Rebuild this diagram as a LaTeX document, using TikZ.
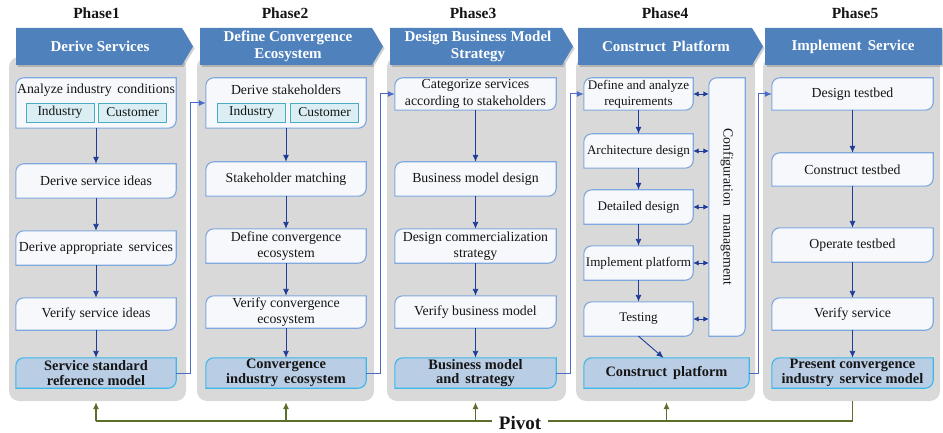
\documentclass[tikz,border=0pt]{standalone}
\usepackage{fontspec}
\setmainfont{Liberation Serif}
\usetikzlibrary{arrows.meta,calc}
\pgfdeclarelayer{bgA}\pgfdeclarelayer{bgB}\pgfsetlayers{bgA,bgB,main}
\definecolor{hblue}{HTML}{4F81BD}
\definecolor{pgray}{HTML}{D9D9D9}
\definecolor{bfill}{HTML}{F6F8FB}
\definecolor{bline}{HTML}{7FA8DE}
\definecolor{rfill}{HTML}{B9CDE5}
\definecolor{rline}{HTML}{3DB8EC}
\definecolor{sfill}{HTML}{DAEEF3}
\definecolor{sline}{HTML}{4BACC6}
\definecolor{arr}{HTML}{1F3C99}
\definecolor{conn}{HTML}{4A6BC8}
\definecolor{piv}{HTML}{5B6E2B}
\definecolor{txt}{HTML}{151515}
\newcommand\dframe[3]{\filldraw[draw=#1,fill=#2,line width=1.1pt] (#3.south west) -- ([yshift=-8pt]#3.north west) arc[start angle=180,end angle=90,radius=8pt] -- (#3.north east) -- ([yshift=8pt]#3.south east) arc[start angle=0,end angle=-90,radius=8pt] -- cycle;}
\newcommand\hdrshape[3]{% x1, x2, tip
  \fill[black,opacity=.18] (#1+1.5,30) -- (#2+1.5,30) -- (#3+1.5,48.5) -- (#2+1.5,67) -- (#1+1.5,67) -- cycle;
  \fill[hblue] (#1,28) -- (#2,28) -- (#3,46.5) -- (#2,65) -- (#1,65) -- cycle;}
\tikzset{
  panel/.style={fill=pgray,rounded corners=10pt,minimum width=#1,minimum height=344pt,inner sep=0pt},
  box/.style={minimum height=34pt,align=center,inner sep=1pt,text=txt,font=\fontsize{13.8}{16.5}\selectfont},
  sbox/.style={box,font=\fontsize{13.1}{16}\selectfont},
  res/.style={box,minimum height=30pt,font=\bfseries\fontsize{14.4}{14.5}\selectfont},
  sub/.style={draw=sline,fill=sfill,line width=0.9pt,minimum width=68pt,minimum height=19pt,inner sep=0pt,text=txt,font=\fontsize{13.5}{15}\selectfont},
  hdr/.style={text=white,align=center,font=\bfseries\fontsize{15}{17.5}\selectfont,inner sep=0pt},
  phase/.style={text=txt,font=\bfseries\fontsize{15.5}{16}\selectfont,inner sep=0pt},
  flow/.style={draw=arr,line width=0.9pt,-{Latex[length=7pt,width=6pt]}},
  dflow/.style={draw=arr,line width=0.9pt,{Latex[length=5.5pt,width=5.5pt]}-{Latex[length=5.5pt,width=5.5pt]}},
  link/.style={draw=conn,line width=1pt,-{Latex[length=7pt,width=6pt]}},
  pline/.style={draw=piv,line width=1.1pt},
  parr/.style={pline,-{Latex[length=7pt,width=6pt]}}
}
\begin{document}
\begin{tikzpicture}[x=1pt,y=-1pt]
\useasboundingbox (0,0) rectangle (943,433);
% phase labels
\node[phase] (ph1) at (96.5,13) {Phase1};
\node[phase] (ph2) at (285,13) {Phase2};
\node[phase] (ph3) at (473,13) {Phase3};
\node[phase] (ph4) at (665,13) {Phase4};
\node[phase] (ph5) at (855,13) {Phase5};
% panels and headers
\begin{pgfonlayer}{bgA}
\node[panel=177pt] (pan1) at (97.5,229) {};
\node[panel=177pt] (pan2) at (285.5,229) {};
\node[panel=179pt] (pan3) at (476.5,229) {};
\node[panel=179pt] (pan4) at (665.5,229) {};
\node[panel=177pt] (pan5) at (851.5,229) {};
\hdrshape{16}{182}{193}
\hdrshape{200}{372}{383}
\hdrshape{390}{562}{573}
\hdrshape{578}{752}{763}
\hdrshape{765}{942}{942}
\end{pgfonlayer}
\node[hdr] (h1) at (100,46.5) {Derive Services};
\node[hdr] (h2) at (288,46.5) {Define Convergence\\Ecosystem};
\node[hdr] (h3) at (478,46.5) {Design Business Model\\Strategy};
\node[hdr] (h4) at (666,46.5) {Construct\, Platform};
\node[hdr] (h5) at (853,46.5) {Implement\, Service};
% Phase 1
\node[box,minimum width=160pt,minimum height=50pt] (p1a) at (96,103) {};
\node[box] (p1at) at (96,90) {Analyze industry\, conditions};
\node[sub] (p1s1) at (60,112.5) {Industry};
\node[sub] (p1s2) at (132.5,112.5) {Customer};
\node[box,minimum width=160pt] (p1b) at (96,181) {Derive service ideas};
\node[box,minimum width=160pt] (p1c) at (96,248) {Derive appropriate\, services};
\node[box,minimum width=160pt,minimum height=32pt] (p1d) at (96,314) {Verify service ideas};
\node[res,minimum width=160pt] (p1e) at (96,373) {Service standard\\reference model};
% Phase 2
\node[box,minimum width=160pt,minimum height=50pt] (p2a) at (286,103) {};
\node[box] (p2at) at (286,90) {Derive stakeholders};
\node[sub] (p2s1) at (251.5,112.5) {Industry};
\node[sub] (p2s2) at (324.5,112.5) {Customer};
\node[box,minimum width=160pt] (p2b) at (286,179) {Stakeholder matching};
\node[box,minimum width=160pt] (p2c) at (286,246) {Define convergence\\ecosystem};
\node[box,minimum width=160pt,minimum height=32pt] (p2d) at (286,312) {Verify convergence\\ecosystem};
\node[res,minimum width=160pt] (p2e) at (286,373) {Convergence\\industry\, ecosystem};
% Phase 3
\node[box,minimum width=161pt,minimum height=32pt] (p3a) at (475.5,94) {Categorize services\\according to stakeholders};
\node[box,minimum width=161pt] (p3b) at (475.5,179) {Business model design};
\node[box,minimum width=161pt] (p3c) at (475.5,246) {Design commercialization\\strategy};
\node[box,minimum width=161pt,minimum height=32pt] (p3d) at (475.5,312) {Verify business model};
\node[res,minimum width=161pt] (p3e) at (475.5,373) {Business model\\and\, strategy};
% Phase 4
\node[sbox,minimum width=109pt,minimum height=32pt] (p4a) at (638.5,94) {Define and analyze\\requirements};
\node[sbox,minimum width=109pt] (p4b) at (638.5,151) {Architecture design};
\node[sbox,minimum width=109pt] (p4c) at (638.5,207) {Detailed design};
\node[sbox,minimum width=109pt] (p4d) at (638.5,263) {Implement platform};
\node[sbox,minimum width=109pt] (p4e) at (638.5,319) {Testing};
\node[box,minimum width=36pt,minimum height=258pt] (cfg) at (727,207) {};
\node[box,rotate=-90,font=\fontsize{13.8}{16}\selectfont] (cfgt) at (cfg.center) {Configuration\hspace{9pt}management};
\node[res,minimum width=165pt] (p4f) at (666.5,373) {Construct\, platform};
% Phase 5
\node[box,minimum width=161pt,minimum height=32pt] (p5a) at (852.5,94) {Design testbed};
\node[box,minimum width=161pt,minimum height=33pt] (p5b) at (852.5,169.5) {Construct testbed};
\node[box,minimum width=161pt] (p5c) at (852.5,245) {Operate testbed};
\node[box,minimum width=161pt,minimum height=32pt] (p5d) at (852.5,314) {Verify service};
\node[res,minimum width=161pt] (p5e) at (852.5,373) {Present convergence\\industry\, service model};
% frames
\begin{pgfonlayer}{bgB}
\foreach \n in {p1a,p1b,p1c,p1d,p2a,p2b,p2c,p2d,p3a,p3b,p3c,p3d,p4a,p4b,p4c,p4d,p4e,cfg,p5a,p5b,p5c,p5d}{\dframe{bline}{bfill}{\n}}
\foreach \n in {p1e,p2e,p3e,p4f,p5e}{\dframe{rline}{rfill}{\n}}
\end{pgfonlayer}
% vertical flows
\draw[flow] (p1a) -- (p1b); \draw[flow] (p1b) -- (p1c); \draw[flow] (p1c) -- (p1d); \draw[flow] (p1d) -- (p1e);
\draw[flow] (p2a) -- (p2b); \draw[flow] (p2b) -- (p2c); \draw[flow] (p2c) -- (p2d); \draw[flow] (p2d) -- (p2e);
\draw[flow] (p3a) -- (p3b); \draw[flow] (p3b) -- (p3c); \draw[flow] (p3c) -- (p3d); \draw[flow] (p3d) -- (p3e);
\draw[flow] (p4a) -- (p4b); \draw[flow] (p4b) -- (p4c); \draw[flow] (p4c) -- (p4d); \draw[flow] (p4d) -- (p4e);
\draw[flow] (p4e.south) -- ([xshift=-3pt]p4f.north);
\draw[flow] (p5a) -- (p5b); \draw[flow] (p5b) -- (p5c); \draw[flow] (p5c) -- (p5d); \draw[flow] (p5d) -- (p5e);
\foreach \n in {p4a,p4b,p4c,p4d,p4e}{\draw[dflow] (\n.east) -- (\n.east -| cfg.west);}
% inter-phase links
\draw[link] (p1e.east) -- ++(14,0) |- (p2a.west);
\draw[link] (p2e.east) -- ++(14,0) |- (p3a.west);
\draw[link] (p3e.east) -- ++(14,0) |- (p4a.west);
\draw[link] (p4f.east) -- ++(9,0) |- (p5a.west);
% pivot
\coordinate (pv) at (0,421);
\draw[pline] (p5e.south |- pan5.south) -- (p5e.south |- pv) -- (p1e.south |- pv);
\foreach \n in {p1e,p2e,p3e,p4f}{\draw[parr] (\n.south |- pv) -- ([yshift=-1pt]\n.south |- pan1.south);}
\node[fill=white,inner xsep=7pt,inner ysep=1pt,text=txt,font=\bfseries\fontsize{19}{19}\selectfont] (pivot) at (520,423) {Pivot};
\end{tikzpicture}
\end{document}
